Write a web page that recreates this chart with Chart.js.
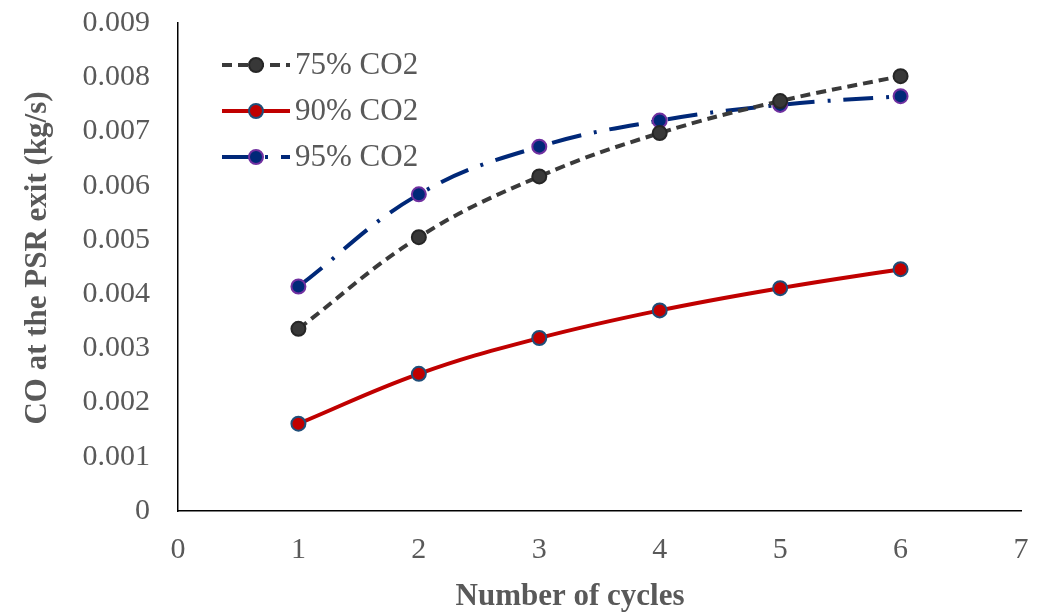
<!DOCTYPE html>
<html lang="en">
<head>
  <meta charset="UTF-8" />
  <title>CO at the PSR exit</title>
  <script src="https://cdn.jsdelivr.net/npm/chart.js"></script>
  <style>
    body { margin: 0; background: #fff; }
    #wrap { width: 1038px; height: 614px; position: relative; }
  </style>
</head>
<body>
<div id="wrap"><canvas id="coChart"></canvas></div>

<script>
  // data
  const cycles = [1, 2, 3, 4, 5, 6];
  const co75 = [0.00336, 0.00505, 0.00617, 0.00697, 0.00756, 0.00802];
  const co90 = [0.00161, 0.00253, 0.00319, 0.00370, 0.00411, 0.00446];
  const co95 = [0.00414, 0.00584, 0.00672, 0.00720, 0.00749, 0.00765];
  const seriesLabels = ['75% CO2', '90% CO2', '95% CO2'];
  const xTicks = [0, 1, 2, 3, 4, 5, 6, 7];
  const yTicks = [0, 0.001, 0.002, 0.003, 0.004, 0.005, 0.006, 0.007, 0.008, 0.009];

  const gray = '#595959';
  const serif = '"Liberation Serif", "Times New Roman", serif';

  const toPoints = vals => cycles.map((c, i) => ({ x: c, y: vals[i] }));

  // legend + axis titles drawn by hand (Excel style placement)
  const extras = {
    id: 'extras',
    afterDraw(chart) {
      const c = chart.ctx;
      c.save();
      // legend
      chart.data.datasets.forEach((ds, i) => {
        const y = 65 + i * 46;
        c.strokeStyle = ds.borderColor;
        c.lineWidth = ds.borderWidth;
        c.setLineDash(ds.borderDash || []);
        c.beginPath();
        c.moveTo(222, y);
        c.lineTo(290, y);
        c.stroke();
        c.setLineDash([]);
        c.beginPath();
        c.arc(256, y, ds.pointRadius, 0, Math.PI * 2);
        c.fillStyle = ds.pointBackgroundColor;
        c.fill();
        c.lineWidth = ds.pointBorderWidth;
        c.strokeStyle = ds.pointBorderColor;
        c.stroke();
        c.fillStyle = gray;
        c.font = '31px ' + serif;
        c.textAlign = 'left';
        c.textBaseline = 'middle';
        c.fillText(ds.label, 295, y + 1);
      });
      // axis titles
      c.fillStyle = gray;
      c.font = 'bold 31px ' + serif;
      c.textAlign = 'center';
      c.textBaseline = 'middle';
      c.fillText('Number of cycles', 570, 597);
      c.translate(38, 258);
      c.rotate(-Math.PI / 2);
      c.fillText('CO at the PSR exit (kg/s)', 0, 0);
      c.restore();
    }
  };

  new Chart(document.getElementById('coChart'), {
    type: 'line',
    data: {
      datasets: [
        {
          label: seriesLabels[0],
          data: toPoints(co75),
          borderColor: '#3a3a3a',
          borderWidth: 4,
          borderDash: [10, 6],
          pointRadius: 7,
          pointBorderWidth: 2,
          pointBackgroundColor: '#383838',
          pointBorderColor: '#262626',
          tension: 0.4
        },
        {
          label: seriesLabels[1],
          data: toPoints(co90),
          borderColor: '#c00000',
          borderWidth: 4,
          pointRadius: 7,
          pointBorderWidth: 2,
          pointBackgroundColor: '#c00000',
          pointBorderColor: '#1f4e79',
          tension: 0.4
        },
        {
          label: seriesLabels[2],
          data: toPoints(co95),
          borderColor: '#002878',
          borderWidth: 4,
          borderDash: [30, 13, 3, 13],
          pointRadius: 7,
          pointBorderWidth: 2,
          pointBackgroundColor: '#002878',
          pointBorderColor: '#7030a0',
          tension: 0.4
        }
      ]
    },
    options: {
      responsive: true,
      maintainAspectRatio: false,
      animation: false,
      layout: { padding: { top: 23, right: 17, left: 0, bottom: 0 } },
      plugins: {
        legend: { display: false },
        tooltip: { enabled: false }
      },
      scales: {
        x: {
          type: 'linear',
          min: 0,
          max: 7,
          afterBuildTicks: s => { s.ticks = xTicks.map(v => ({ value: v })); },
          afterFit: s => {
            s.height = 103;
            s.paddingLeft = 0;
            s.paddingRight = 0;
          },
          grid: { display: false, drawTicks: false },
          border: { color: '#000', width: 1.5 },
          ticks: { color: gray, padding: 21, font: { family: serif, size: 30 } }
        },
        y: {
          min: 0,
          max: 0.009,
          afterBuildTicks: s => { s.ticks = yTicks.map(v => ({ value: v })); },
          afterFit: s => {
            s.width = 178;
            s.paddingTop = 0;
            s.paddingBottom = 0;
          },
          grid: { display: false, drawTicks: false },
          border: { color: '#000', width: 1.5 },
          ticks: {
            color: gray,
            padding: 28,
            font: { family: serif, size: 30 },
            callback: v => v === 0 ? '0' : v.toFixed(3)
          }
        }
      }
    },
    plugins: [extras]
  });
</script>
</body>
</html>
